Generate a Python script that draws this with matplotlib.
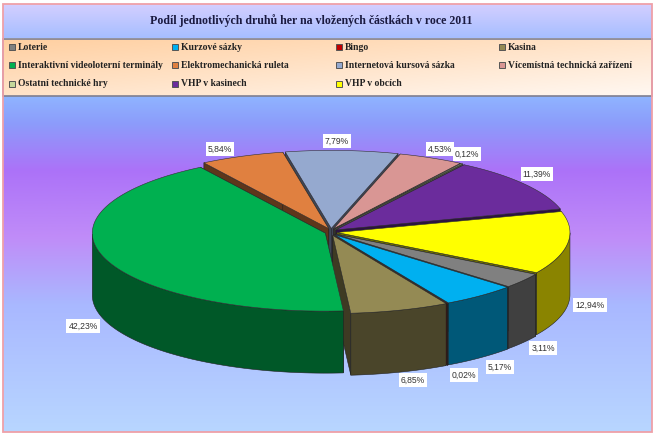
import numpy as np
import matplotlib
matplotlib.use("Agg")
import matplotlib.pyplot as plt
from matplotlib.colors import LinearSegmentedColormap, to_rgb
from matplotlib.patches import Polygon, Rectangle

# Podil druhu her, procenta
names = ["Loterie", "Kurzové sázky", "Bingo", "Kasina",
         "Interaktivní videoloterní terminály", "Elektromechanická ruleta",
         "Internetová kursová sázka", "Vícemístná technická zařízení",
         "Ostatní technické hry", "VHP v kasinech", "VHP v obcích"]
values = [3.11, 5.17, 0.02, 6.85, 42.23, 5.84, 7.79, 4.53, 0.12, 11.39, 12.94]
labels = ["3,11%", "5,17%", "0,02%", "6,85%", "42,23%", "5,84%", "7,79%",
          "4,53%", "0,12%", "11,39%", "12,94%"]
colors = ["#808080", "#00B0F0", "#C00000", "#948A54", "#00B050", "#E08040",
          "#95A9CF", "#D99694", "#C4D79B", "#6B2C9C", "#FFFF00"]

# pozice popisku v pixelech
label_pos = [(543, 348), (500, 367), (464, 375), (413, 380), (83, 326), (220, 149),
             (337, 141), (440, 149), (467, 154), (537, 174), (590, 305)]

cx, cy = 331, 232
rx, ry = 233, 78
depth = 62
explode = 6
start = -31

fig = plt.figure(figsize=(6.56, 4.38), dpi=100)
ax = fig.add_axes([0, 0, 1, 1])
ax.set_xlim(0, 656)
ax.set_ylim(438, 0)
ax.axis("off")
plt.rcParams["font.family"] = "Liberation Serif"


def gradient(x0, x1, y0, y1, cols, z=0, diagonal=False):
    cmap = LinearSegmentedColormap.from_list("g", cols)
    g = np.linspace(0, 1, 256).reshape(-1, 1)
    if diagonal:
        g = (g + np.linspace(0, 1, 256).reshape(1, -1)) / 2
    ax.imshow(g, extent=(x0, x1, y1, y0), cmap=cmap, aspect="auto", zorder=z)


ax.add_patch(Rectangle((0, 0), 656, 438, color="white", zorder=-1))
# titulek
gradient(3, 652, 4, 38, ["#D4CFFF", "#A6BEFF"])
# plocha grafu
gradient(3, 652, 96, 432, [(0, "#8FB4FF"), (0.08, "#8C9CFB"), (0.22, "#AC72F8"),
                           (0.42, "#C08CF8"), (0.62, "#A9B8FF"), (1, "#B8D6FF")])
# legenda
gradient(3, 652, 39, 96, ["#FFCFA0", "#FFF8F2"], z=1, diagonal=True)
ax.add_patch(Rectangle((3, 39), 649, 56.5, fill=False, ec="#7F7F90", lw=1.2, zorder=2))
ax.add_patch(Rectangle((3, 4), 649, 428, fill=False, ec="#EFA0A8", lw=1.3, zorder=3))

ax.text(311, 20.5, "Podíl jednotlivých druhů her na vložených částkách v roce 2011",
        ha="center", va="center", fontsize=8.6, fontweight="bold", color="#1A1A40", zorder=4)

leg_x = [9, 172, 336, 499]
leg_y = [47, 65, 84]
for i, (name, col) in enumerate(zip(names, colors)):
    lx = leg_x[i % 4]
    ly = leg_y[i // 4]
    ax.add_patch(Rectangle((lx, ly - 3), 6, 6, fc=col, ec="#555555", lw=0.7, zorder=4))
    ax.text(lx + 9, ly, name, ha="left", va="center", fontsize=6.9, fontweight="bold",
            color="#222222", zorder=4)


def darker(col, f):
    return tuple(c * f for c in to_rgb(col))


def pt(a, ox, oy):
    return ox + rx * np.cos(np.radians(a)), oy - ry * np.sin(np.radians(a))


# uhly - po smeru hodin od startu
ends = start - np.cumsum(values) * 3.6 / (sum(values) / 100)
starts = np.r_[start, ends[:-1]]
mids = (starts + ends) / 2
order = np.argsort(-np.sin(np.radians(mids)))

z = 10
for i in order:
    a0, a1 = starts[i], ends[i]
    ox = cx + explode * np.cos(np.radians(mids[i]))
    oy = cy - explode * 0.6 * np.sin(np.radians(mids[i]))
    th = np.linspace(a0, a1, 160)
    xs, ys = pt(th, ox, oy)
    col = colors[i]
    side = darker(col, 0.5)
    if col == "#FFFF00":
        side = "#8A8400"

    # radialni steny nejdriv
    for a in (a0, a1):
        ex, ey = pt(a, ox, oy)
        wall = [(ox, oy), (ex, ey), (ex, ey + depth), (ox, oy + depth)]
        ax.add_patch(Polygon(wall, fc=darker(col, 0.42), ec="#202020", lw=0.4, zorder=z))
    # vnejsi stena
    front = np.sin(np.radians(th)) < 0
    if front.any():
        fx, fy = xs[front], ys[front]
        poly = np.r_[np.c_[fx, fy], np.c_[fx, fy + depth][::-1]]
        ax.add_patch(Polygon(poly, fc=side, ec="#202020", lw=0.4, zorder=60 + z))
    # horni plocha az nad vsemi stenami
    top = np.r_[[[ox, oy]], np.c_[xs, ys]]
    ax.add_patch(Polygon(top, fc=col, ec="#303030", lw=0.4, zorder=120 + z))
    z += 3

for txt, (lx, ly) in zip(labels, label_pos):
    ax.text(lx, ly, txt, ha="center", va="center", fontsize=6.2, family="Liberation Sans",
            color="#333333", zorder=300,
            bbox=dict(fc="white", ec="none", pad=1.6))

fig.savefig("out.png", dpi=100)
